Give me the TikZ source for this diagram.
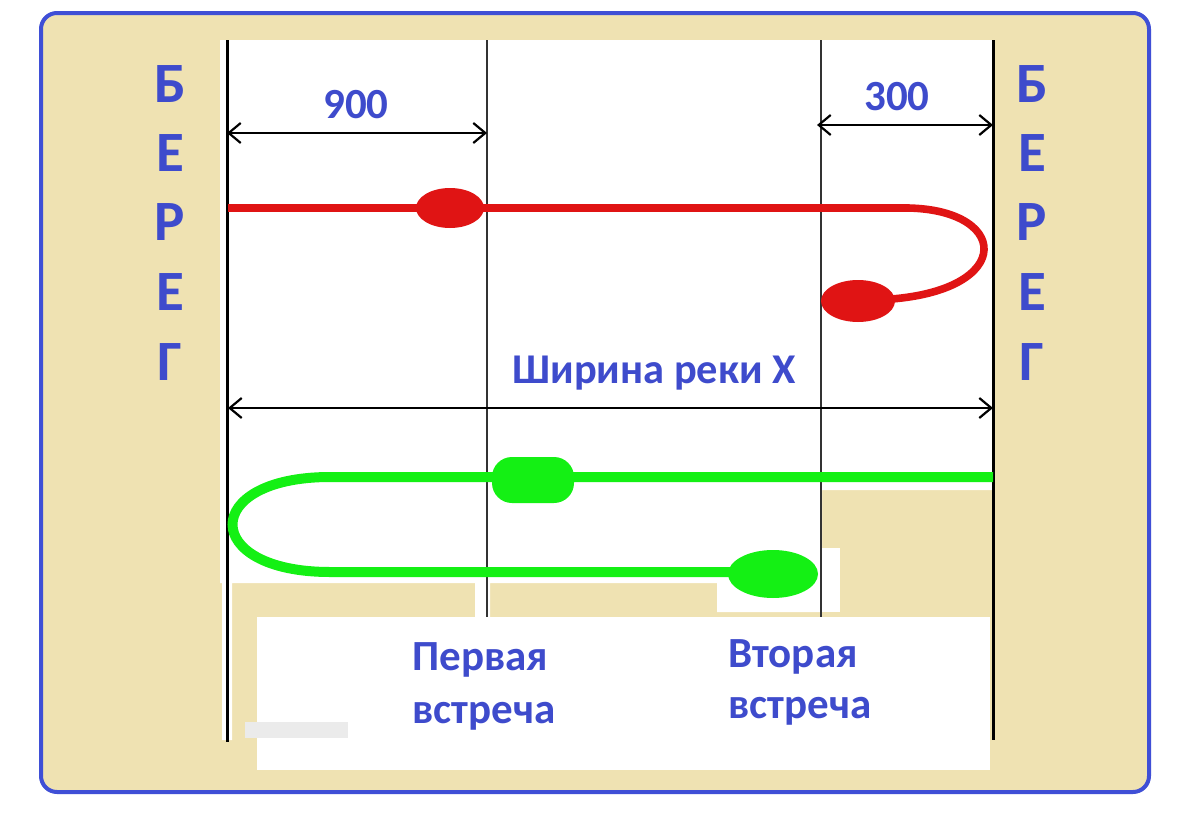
\documentclass[tikz,border=0pt]{standalone}
\usepackage{fontspec}
\setmainfont{Carlito}
\usetikzlibrary{arrows.meta,shapes.geometric}
\definecolor{beige}{HTML}{EFE2B2}
\definecolor{frameblue}{HTML}{3F4FD6}
\definecolor{txtblue}{HTML}{3E4BCC}
\definecolor{rred}{HTML}{E01414}
\definecolor{ggreen}{HTML}{14F014}
\tikzset{
  bank/.style={black, line width=1.5pt},
  meet/.style={black!80, line width=1pt},
  dim/.style={black, line width=1.1pt, {Straight Barb[length=6pt,width=10pt]}-{Straight Barb[length=6pt,width=10pt]}},
  letter/.style={text=txtblue, font=\fontsize{28.5}{30}\selectfont\bfseries, inner sep=0pt, anchor=base},
  lbl/.style={text=txtblue, font=\fontsize{21.5}{26}\selectfont\bfseries, inner sep=0pt},
  redpath/.style={rred, line width=3.8pt},
  greenpath/.style={ggreen, line width=5pt},
  redblob/.style={ellipse, fill=rred, inner sep=0pt},
  greenblob/.style={ellipse, fill=ggreen, inner sep=0pt},
}
\begin{document}
\begin{tikzpicture}[x=0.5pt,y=-0.5pt]
\useasboundingbox (0,0) rectangle (1200,819);
\fill[white] (0,0) rectangle (1200,819);
% frame
\draw[frameblue, line width=2pt, fill=beige, rounded corners=8pt] (41,13) rectangle (1149,792);
% white river area
\fill[white] (220,40) -- (993,40) -- (993,490) -- (822,490) -- (822,612) -- (717,612) -- (717,583)
  -- (490,583) -- (490,617) -- (475,617) -- (475,583) -- (232,583) -- (232,740) -- (222,740) -- (222,583) -- (220,583) -- cycle;
\fill[white] (822,548) -- (840,548) -- (840,612) -- (822,612) -- cycle;
\fill[white] (257,617) rectangle (990,770);
\fill[black!8] (245,722) rectangle (348,738);
% banks and meeting lines
\coordinate (lt) at (227,40); \coordinate (lb) at (227,742);
\coordinate (rt) at (993,40); \coordinate (rb) at (993,740);
\coordinate (m1t) at (487,40); \coordinate (m1b) at (487,617);
\coordinate (m2t) at (821,40); \coordinate (m2b) at (821,617);
\draw[bank] (lt) -- (lb);
\draw[bank] (rt) -- (rb);
\draw[meet] (m1t) -- (m1b);
\draw[meet] (m2t) -- (m2b);
% dimension arrows
\coordinate (a1) at (227,133); \coordinate (a2) at (487,133);
\coordinate (b1) at (817,125); \coordinate (b2) at (993,125);
\coordinate (c1) at (228,408); \coordinate (c2) at (993,408);
\draw[dim] (a1) -- (a2);
\draw[dim] (b1) -- (b2);
\draw[dim] (c1) -- (c2);
\node[lbl, anchor=base] (t900) at (356,118) {900};
\node[lbl, anchor=base] (t300) at (897,110) {300};
\node[lbl, anchor=base west, font=\fontsize{21.2}{26}\selectfont\bfseries] (tw) at (512,383) {Ширина реки X};
% red boat
\coordinate (rs) at (228,208);
\coordinate (rturn) at (908,208);
\coordinate (re) at (870,300);
\draw[redpath] (rs) -- (rturn) .. controls (1015,210) and (1015,298) .. (re);
\node[redblob, minimum width=34pt, minimum height=20pt] (r1) at (450,208) {};
\node[redblob, minimum width=37pt, minimum height=21pt] (r2) at (858,301) {};
% green boat
\coordinate (gs) at (993,477);
\coordinate (gturn) at (330,477);
\coordinate (ge) at (760,572);
\draw[greenpath] (gs) -- (gturn) .. controls (200,477) and (200,572) .. (330,572) -- (ge);
\node[fill=ggreen, rounded corners=10pt, minimum width=41pt, minimum height=23pt, inner sep=0pt] (g1) at (533,480) {};
\node[greenblob, minimum width=45pt, minimum height=24pt] (g2) at (773,574) {};
% shore letters
\foreach \n/\ch/\yy in {1/Б/102,2/Е/171,3/Р/240,4/Е/310,5/Г/380}{
  \node[letter] (L\n) at (170,\yy) {\ch};
  \node[letter] (R\n) at (1032,\yy) {\ch};
}
% meeting labels
\node[lbl, anchor=base west] (p1) at (412,670) {Первая};
\node[lbl, anchor=base west] (p2) at (412,723) {встреча};
\node[lbl, anchor=base west] (v1) at (728,667) {Вторая};
\node[lbl, anchor=base west] (v2) at (728,718) {встреча};
\end{tikzpicture}
\end{document}
